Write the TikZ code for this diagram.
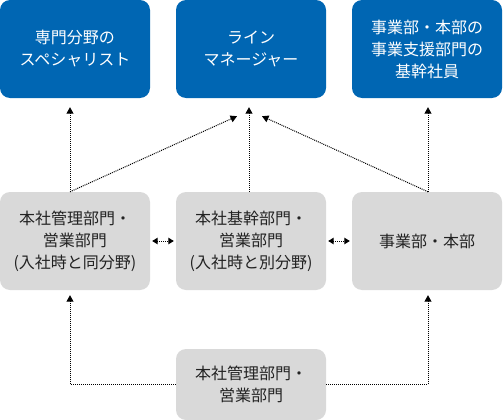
\documentclass[tikz,border=0pt]{standalone}
\usepackage{fontspec}
\setmainfont{Noto Sans CJK JP}
\usetikzlibrary{arrows.meta,calc}
\definecolor{boxblue}{HTML}{0066B3}
\definecolor{boxgray}{HTML}{D9D9D9}
\definecolor{txtgray}{HTML}{222222}
\begin{document}
\begin{tikzpicture}[x=1pt,y=-1pt,
  basebox/.style={rounded corners=10pt, minimum width=150pt, minimum height=98pt, align=center, inner sep=0pt, font=\fontsize{16}{22}\selectfont},
  bluebox/.style={basebox, fill=boxblue, text=white},
  graybox/.style={basebox, fill=boxgray, text=txtgray},
  link/.style={densely dotted, line width=1pt, -{Triangle[length=6.5pt,width=7pt]}},
  dlink/.style={densely dotted, line width=1pt, {Triangle[length=5.5pt,width=6.5pt]}-{Triangle[length=5.5pt,width=6.5pt]}}]
\useasboundingbox (0,0) rectangle (503,420);
\node[bluebox] (tL) at (75,49) {専門分野の\\スペシャリスト};
\node[bluebox] (tM) at (251,49) {ライン\\マネージャー};
\node[bluebox] (tR) at (427,49) {事業部・本部の\\事業支援部門の\\基幹社員};
\node[graybox] (mL) at (75,241) {本社管理部門・\\営業部門\\(入社時と同分野)};
\node[graybox] (mM) at (251,241) {本社基幹部門・\\営業部門\\(入社時と別分野)};
\node[graybox] (mR) at (427,241) {事業部・本部};
\node[graybox, minimum height=71pt] (b) at (251,384.5) {本社管理部門・\\営業部門};
\draw[link] ($(mL.north)+(-5,0)$) -- ($(tL.south)+(-5,9)$);
\draw[link] ($(mL.north)+(-5,0)$) -- ($(tM.south)+(-14,18)$);
\draw[link] ($(mM.north)+(-2,0)$) -- ($(tM.south)+(-2,9)$);
\draw[link] ($(mR.north)+(1,0)$) -- ($(tM.south)+(11,18)$);
\draw[link] ($(mR.north)+(1,0)$) -- ($(tR.south)+(1,9)$);
\draw[dlink] ($(mL.east)+(2,0)$) -- ($(mM.west)+(-2,0)$);
\draw[dlink] ($(mM.east)+(2,0)$) -- ($(mR.west)+(-2,0)$);
\draw[link] (b.west) -| ($(mL.south)+(-5,5)$);
\draw[link] (b.east) -| ($(mR.south)+(1,5)$);
\end{tikzpicture}
\end{document}
